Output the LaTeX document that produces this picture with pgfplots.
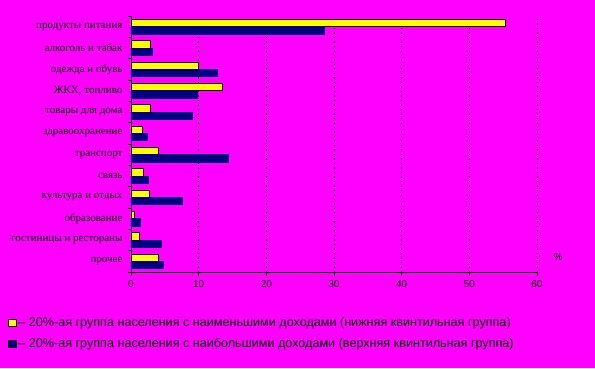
\documentclass[border=0pt]{standalone}
\usepackage{fontspec}
\setmainfont{Liberation Serif}
\newfontfamily\arial{Liberation Sans}
\usepackage{pgfplots}
\pgfplotsset{compat=1.18}
\definecolor{bg}{HTML}{FF00FF}
\definecolor{navyb}{HTML}{000080}
\definecolor{yel}{HTML}{FFFF00}
\begin{document}
\begin{tikzpicture}[x=1pt,y=1pt]
\fill[bg] (0,0) rectangle (595,368);
\begin{axis}[at={(131pt,96pt)}, anchor=south west, scale only axis,
  width=406pt, height=256pt,
  xbar, bar width=7.3pt,
  xmin=0, xmax=60, ymin=-0.5, ymax=11.5,
  axis x line*=bottom, axis y line*=left,
  axis line style={black, line width=0.9pt},
  xtick={0,10,...,60},
  xmajorgrids,
  grid style={black, line width=0.9pt, dash pattern=on 1.5pt off 3pt},
  ytick={0,...,11},
  yticklabels={прочее, гостиницы и рестораны, образование, культура и отдых, связь, транспорт, здравоохранение, товары для дома, {ЖКХ, топливо}, одежда и обувь, алкоголь и табак, продукты питания},
  major y tick style={draw=none},
  minor ytick={-0.5,0.5,...,11.5},
  tick align=outside, major tick length=4pt, minor tick length=3pt,
  tick style={black, line width=0.9pt},
  yticklabel style={font=\fontsize{11}{11}\selectfont, xshift=-1pt},
  xticklabel style={font=\arial\fontsize{10}{10}\selectfont, yshift=-1pt},
  /pgf/number format/assume math mode=true,
  legend style={at={(-0.303,-0.17)}, anchor=north west, draw=none, fill=none,
    font=\arial\fontsize{12.6}{12.6}\selectfont, row sep=6pt, inner sep=0pt},
  legend cell align=left,
  legend image code/.code={\draw[#1, draw=black, line width=0.8pt] (0pt,-3.7pt) rectangle (7.4pt,3.7pt);},
  clip=false,
]
\addplot[fill=yel, draw=black, line width=0.8pt, bar shift=3.65pt] coordinates {
 (4.0,0) (1.2,1) (0.5,2) (2.7,3) (1.8,4) (4.0,5) (1.7,6) (2.9,7) (13.5,8) (10.0,9) (2.9,10) (55.3,11)};
\addplot[fill=navyb, draw=navyb, line width=0.4pt, bar shift=-3.65pt] coordinates {
 (4.8,0) (4.5,1) (1.4,2) (7.6,3) (2.6,4) (14.3,5) (2.4,6) (9.1,7) (9.85,8) (12.8,9) (3.2,10) (28.6,11)};
\legend{– 20\%-ая группа населения с наименьшими доходами (нижняя квинтильная группа),
        – 20\%-ая группа населения с наибольшими доходами (верхняя квинтильная группа)}
\end{axis}
\node[font=\arial\fontsize{10}{10}\selectfont] at (558,111) {\%};
\end{tikzpicture}
\end{document}
